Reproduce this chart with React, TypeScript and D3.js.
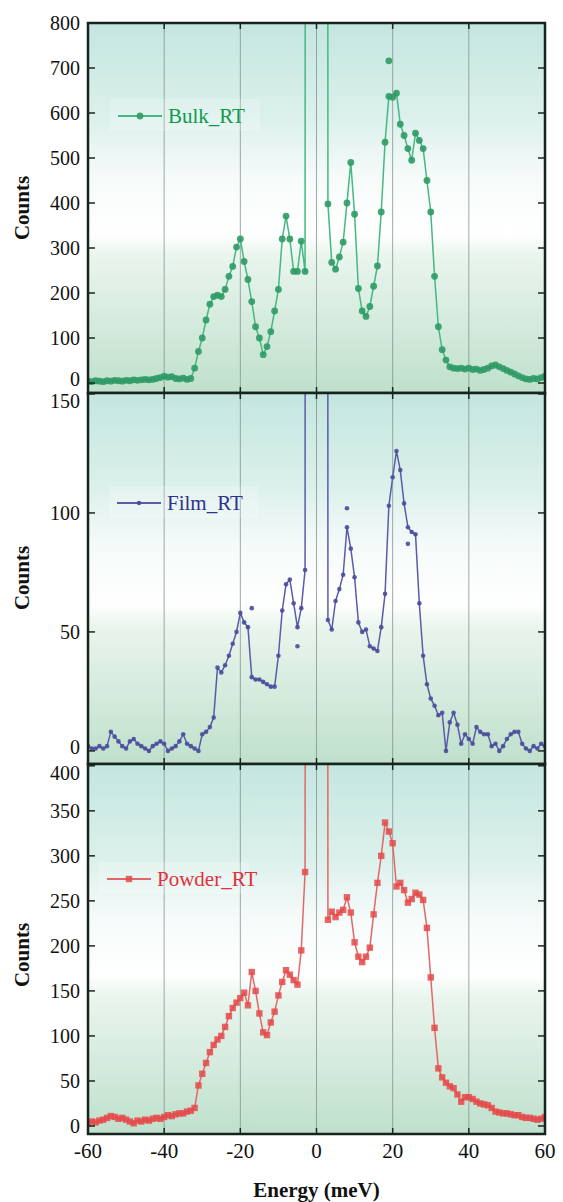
import React from "react";
import * as d3 from "d3";

// energy grid (meV), shared by all three spectra
const energy = [
  -60, -59, -58, -57, -56, -55, -54, -53, -52, -51,
  -50, -49, -48, -47, -46, -45, -44, -43, -42, -41,
  -40, -39, -38, -37, -36, -35, -34, -33, -32, -31,
  -30, -29, -28, -27, -26, -25, -24, -23, -22, -21,
  -20, -19, -18, -17, -16, -15, -14, -13, -12, -11,
  -10, -9, -8, -7, -6, -5, -4, -3, -2, -1,
  0, 1, 2, 3, 4, 5, 6, 7, 8, 9,
  10, 11, 12, 13, 14, 15, 16, 17, 18, 19,
  20, 21, 22, 23, 24, 25, 26, 27, 28, 29,
  30, 31, 32, 33, 34, 35, 36, 37, 38, 39,
  40, 41, 42, 43, 44, 45, 46, 47, 48, 49,
  50, 51, 52, 53, 54, 55, 56, 57, 58, 59,
  60,
];

// elastic line goes far off scale
const bulkCounts = [
  4, 3, 5, 4, 3, 5, 4, 6, 5, 4,
  6, 5, 7, 6, 7, 8, 7, 8, 10, 12,
  15, 13, 14, 10, 9, 11, 8, 10, 33, 70,
  100, 140, 175, 192, 195, 192, 208, 237, 259, 302,
  320, 270, 230, 181, 125, 100, 63, 81, 114, 160,
  208, 320, 371, 320, 248, 248, 315, 248, 20000, 20000,
  20000, 20000, 20000, 398, 268, 253, 280, 313, 400, 490,
  375, 210, 160, 148, 170, 215, 260, 380, 535, 637,
  635, 644, 575, 550, 521, 495, 555, 539, 521, 450,
  380, 237, 125, 74, 51, 36, 33, 32, 33, 31,
  33, 30, 31, 28, 30, 33, 38, 40, 36, 32,
  28, 24, 20, 16, 12, 9, 8, 10, 9, 12,
  15,
];

const filmCounts = [
  2, 1, 1, 2, 1, 2, 8, 6, 4, 2,
  1, 4, 5, 3, 2, 1, 0, 2, 3, 4,
  3, 0, 1, 2, 4, 7, 3, 2, 1, 0,
  7, 8, 10, 14, 35, 33, 36, 40, 45, 50,
  58, 54, 52, 31, 30, 30, 29, 28, 27, 27,
  40, 59, 70, 72, 62, 52, 60, 76, 5000, 5000,
  5000, 5000, 5000, 55, 51, 63, 68, 74, 94, 85,
  73, 54, 50, 51, 44, 43, 42, 52, 66, 103,
  115, 126, 118, 104, 94, 92, 91, 62, 40, 28,
  22, 19, 15, 16, 0, 12, 16, 11, 3, 7,
  5, 3, 10, 8, 7, 7, 2, 3, 0, 2,
  5, 7, 8, 8, 3, 1, 0, 2, 1, 3,
  2,
];

const powderCounts = [
  3, 5, 4, 6, 7, 9, 11, 10, 8, 9,
  7, 5, 3, 6, 5, 7, 6, 8, 9, 8,
  10, 12, 11, 13, 14, 14, 16, 17, 20, 45,
  58, 70, 82, 90, 96, 100, 110, 122, 131, 137,
  142, 148, 134, 171, 150, 125, 104, 101, 115, 127,
  145, 160, 173, 168, 162, 157, 195, 282, 8000, 8000,
  8000, 8000, 8000, 229, 238, 232, 237, 240, 254, 237,
  204, 188, 182, 188, 198, 235, 270, 300, 337, 327,
  314, 266, 270, 262, 248, 252, 259, 257, 251, 220,
  165, 109, 64, 54, 48, 44, 42, 35, 27, 32,
  32, 30, 27, 25, 24, 23, 20, 16, 15, 14,
  14, 13, 12, 12, 10, 9, 9, 8, 7, 8,
  10,
];

// stray points that sit off the connecting line
const bulkExtraE = [19];
const bulkExtraC = [716];
const filmExtraE = [-17, -5, 8, 24];
const filmExtraC = [60, 44, 102, 87];
const powderExtraE: number[] = [];
const powderExtraC: number[] = [];

const xTicks = [-60, -40, -20, 0, 20, 40, 60];
const bulkTicks = [0, 100, 200, 300, 400, 500, 600, 700, 800];
const filmTicks = [0, 50, 100, 150];
const powderTicks = [0, 50, 100, 150, 200, 250, 300, 350, 400];

const W = 563;
const H = 1202;
const left = 88;
const right = 545;
const serif = "Liberation Serif, DejaVu Serif, serif";

const x = d3.scaleLinear().domain([-60, 60]).range([left, right]);

type PanelProps = {
  id: string;
  top: number;
  bottom: number;
  domain: [number, number];
  ticks: number[];
  counts: number[];
  extraE: number[];
  extraC: number[];
  label: string;
  line: string;
  marker: string;
  text: string;
  shape: "circle" | "small" | "square";
  legendX: number;
  legendY: number;
  labelY: number;
  first: boolean;
  last: boolean;
};

const Marker = ({ cx, cy, shape, fill }: { cx: number; cy: number; shape: string; fill: string }) => {
  if (shape === "square")
    return <rect x={cx - 3.2} y={cy - 3.2} width={6.4} height={6.4} fill={fill} opacity={0.85} />;
  return <circle cx={cx} cy={cy} r={shape === "small" ? 2.3 : 3.4} fill={fill} opacity={0.9} />;
};

const Panel = (p: PanelProps) => {
  const y = d3.scaleLinear().domain(p.domain).range([p.bottom, p.top]);
  const path = d3
    .line<number>()
    .x((_, i) => x(energy[i]))
    .y((d) => y(d))(p.counts);
  const inner = energy
    .map((e, i) => ({ e, c: p.counts[i] }))
    .filter((d) => d.c <= p.domain[1]);
  const top = p.ticks[p.ticks.length - 1];

  return (
    <g>
      <defs>
        <linearGradient id={`bg-${p.id}`} x1="0" y1="0" x2="0" y2="1">
          <stop offset="0%" stopColor="#c4e6df" />
          <stop offset="25%" stopColor="#dbf0eb" />
          <stop offset="42%" stopColor="#f6fbfa" />
          <stop offset="57%" stopColor="#ffffff" />
          <stop offset="63%" stopColor="#e9f5ed" />
          <stop offset="100%" stopColor="#bfe0cc" />
        </linearGradient>
        <clipPath id={`clip-${p.id}`}>
          <rect x={left} y={p.top} width={right - left} height={p.bottom - p.top} />
        </clipPath>
      </defs>
      <rect x={left} y={p.top} width={right - left} height={p.bottom - p.top} fill={`url(#bg-${p.id})`} />
      {xTicks.slice(1, -1).map((t) => (
        <line key={t} x1={x(t)} x2={x(t)} y1={p.top} y2={p.bottom} stroke="#7f8e8a" strokeWidth={1} opacity={0.75} />
      ))}
      {/* legend */}
      <rect x={p.legendX - 8} y={p.legendY - 17} width={150} height={32} fill="#ffffff" opacity={0.22} />
      <line x1={p.legendX} x2={p.legendX + 44} y1={p.legendY} y2={p.legendY} stroke={p.line} strokeWidth={1.8} />
      <Marker cx={p.legendX + 22} cy={p.legendY} shape={p.shape} fill={p.marker} />
      <text x={p.legendX + 50} y={p.legendY + 7} style={{ fontFamily: serif }} fontSize={21} fill={p.text}>
        {p.label}
      </text>
      <g clipPath={`url(#clip-${p.id})`}>
        <path d={path || ""} fill="none" stroke={p.line} strokeWidth={1.5} strokeLinejoin="round" />
        {inner.map((d) => (
          <Marker key={d.e} cx={x(d.e)} cy={y(d.c)} shape={p.shape} fill={p.marker} />
        ))}
        {p.extraE.map((e, i) => (
          <Marker key={`x${e}`} cx={x(e)} cy={y(p.extraC[i])} shape={p.shape} fill={p.marker} />
        ))}
      </g>
      {/* ticks */}
      {p.ticks.map((t) => {
        let dy = 7;
        if (t === top && !p.first) dy = 14;
        if (t === 0 && !p.last) dy = 3;
        return (
          <g key={t}>
            <line x1={left} x2={left + 7} y1={y(t)} y2={y(t)} stroke="#1a2620" strokeWidth={1.5} />
            <line x1={right - 7} x2={right} y1={y(t)} y2={y(t)} stroke="#1a2620" strokeWidth={1.5} />
            <text x={80} y={y(t) + dy} textAnchor="end" style={{ fontFamily: serif }} fontSize={20} fill="#111">
              {t}
            </text>
          </g>
        );
      })}
      {xTicks.slice(1, -1).map((t) => (
        <g key={`t${t}`}>
          <line x1={x(t)} x2={x(t)} y1={p.top} y2={p.top + 6} stroke="#1a2620" strokeWidth={1.5} />
          <line x1={x(t)} x2={x(t)} y1={p.bottom - 6} y2={p.bottom} stroke="#1a2620" strokeWidth={1.5} />
        </g>
      ))}
      <rect x={left} y={p.top} width={right - left} height={p.bottom - p.top} fill="none" stroke="#17241d" strokeWidth={2.5} />
      <text
        transform={`translate(29,${p.labelY}) rotate(-90)`}
        textAnchor="middle"
        style={{ fontFamily: serif }}
        fontWeight="bold"
        fontSize={21}
        fill="#111"
      >
        Counts
      </text>
    </g>
  );
};

export default function App() {
  return (
    <svg width={W} height={H} style={{ position: "absolute", left: 0, top: 0, background: "#fff" }}>
      <Panel
        id="bulk" top={23} bottom={393} domain={[-22.2, 800]} ticks={bulkTicks}
        counts={bulkCounts} extraE={bulkExtraE} extraC={bulkExtraC} label="Bulk_RT"
        line="#45b883" marker="#2f9a66" text="#0d9a4e" shape="circle"
        legendX={118} legendY={116} labelY={208} first={true} last={false}
      />
      <Panel
        id="film" top={393} bottom={764} domain={[-5.5, 150.4]} ticks={filmTicks}
        counts={filmCounts} extraE={filmExtraE} extraC={filmExtraC} label="Film_RT"
        line="#5a5ca8" marker="#4a4c9a" text="#2f3190" shape="small"
        legendX={117} legendY={503} labelY={578} first={false} last={false}
      />
      <Panel
        id="powder" top={764} bottom={1134} domain={[-8.9, 402]} ticks={powderTicks}
        counts={powderCounts} extraE={powderExtraE} extraC={powderExtraC} label="Powder_RT"
        line="#e26868" marker="#e44a4a" text="#e0303a" shape="square"
        legendX={107} legendY={879} labelY={955} first={false} last={true}
      />
      {xTicks.map((t) => (
        <text key={t} x={x(t)} y={1158} textAnchor="middle" style={{ fontFamily: serif }} fontSize={21} fill="#111">
          {t}
        </text>
      ))}
      <text x={x(0)} y={1197} textAnchor="middle" style={{ fontFamily: serif }} fontWeight="bold" fontSize={21} fill="#111">
        Energy (meV)
      </text>
    </svg>
  );
}
